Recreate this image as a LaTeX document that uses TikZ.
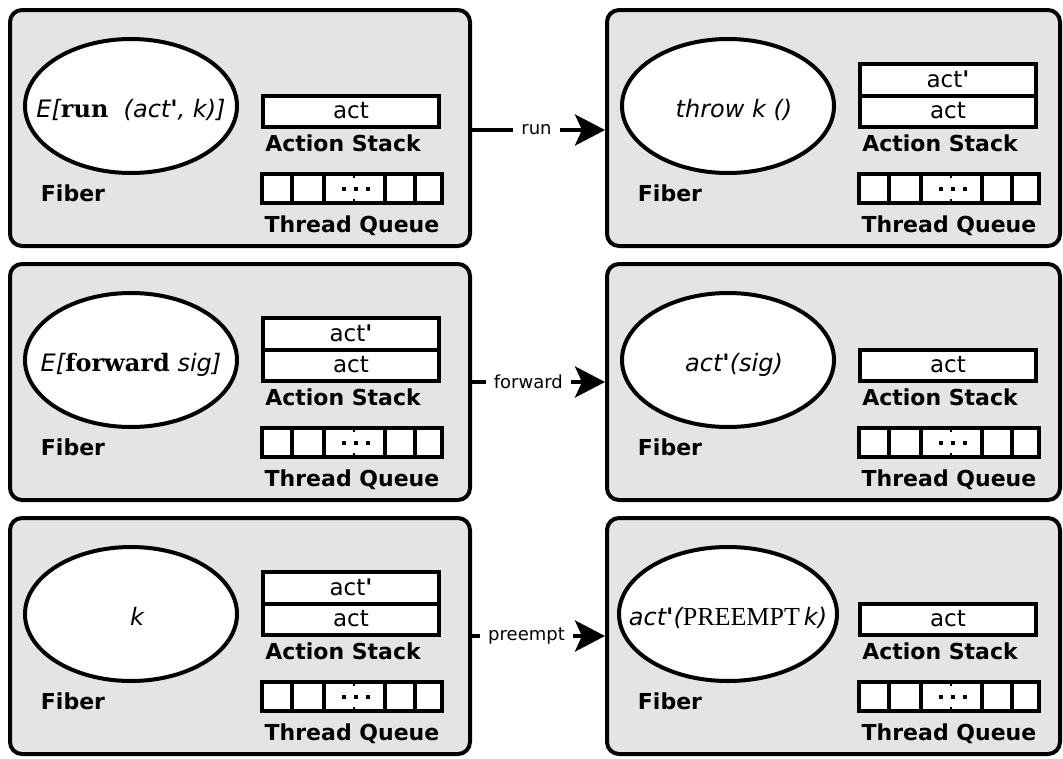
\documentclass[tikz,border=0pt]{standalone}
\usepackage{fontspec}
\usetikzlibrary{arrows.meta,shapes.geometric}
\newfontfamily\dejavu{DejaVu Sans}
\newfontfamily\kwserif{DejaVu Serif}
\newfontfamily\capserif{Liberation Serif}
\definecolor{panelgray}{RGB}{228,228,228}
\tikzset{
  panelbox/.style={draw, line width=4pt, fill=panelgray, rounded corners=12pt,
    minimum height=236pt, inner sep=0pt},
  fibershape/.style={ellipse, draw, line width=4pt, fill=white, minimum height=134pt,
    inner sep=0pt, font=\dejavu\itshape\fontsize{24}{28}\selectfont},
  cell/.style={draw, line width=4pt, fill=white, minimum width=176pt, inner sep=0pt,
    font=\dejavu\fontsize{23}{26}\selectfont},
  queuebox/.style={draw, line width=4pt, fill=white, minimum width=180pt,
    minimum height=29pt, inner sep=0pt},
  divider/.style={line width=4pt},
  qtick/.style={line width=2pt},
  caption/.style={font=\dejavu\bfseries\fontsize{22}{26}\selectfont, inner sep=0pt},
  flow/.style={line width=4pt, -{Stealth[length=30pt,width=31pt,inset=7pt]}},
  flowlabel/.style={fill=white, inner xsep=8pt, inner ysep=2pt,
    font=\dejavu\fontsize{18}{21}\selectfont},
}
% bold upright prime, bold serif keywords and serif capitals
\newcommand\qmark{{\upshape\bfseries\textquotesingle}}
\newcommand\rmbf[1]{{\kwserif\upshape\bfseries\fontsize{24}{28}\selectfont #1}}
\newcommand\rmcaps[1]{{\capserif\upshape\fontsize{26}{29}\selectfont #1}}
% nudge an expression a little to the right of the ellipse centre
\newcommand\nudge{\hspace*{12pt}}

% one fiber state: #1 name, #2/#3 top-left corner, #4 panel width,
% #5 fiber expression, #6 ellipse width, #7 = 1 for a second stack entry
\newcommand\fiberpanel[7]{%
  \begin{scope}[shift={(#2,#3)}]
    \node[panelbox, minimum width=#4pt] (#1) at ({2+#4/2},120) {};
    \node[fibershape, minimum width=#6pt] (#1-ell) at (123,98)
      {\makebox[0pt]{\raisebox{-11pt}[0pt][0pt]{#5}}};
    \node[caption] (#1-fib) at (65,185) {Fiber};
    \node[cell, minimum height=31pt] (#1-act) at (343,103) {act};
    \ifnum#7=1
      \node[cell, minimum height=32pt] (#1-top) at (343,71.5) {act\qmark};
    \fi
    \node[caption] (#1-stk) at (335,135) {Action Stack};
    \node[queuebox] (#1-q) at (344,180.5) {};
    \foreach \dx in {284,316,377,407} \draw[divider] (\dx,166) -- (\dx,195);
    \draw[qtick] (346,164) -- (346,170);
    \draw[qtick] (346,191) -- (346,197);
    \foreach \dx in {336,348,360} \fill (\dx-2,179) rectangle (\dx+2,183);
    \node[caption] (#1-tq) at (344,218) {Thread Queue};
  \end{scope}}

\begin{document}
\begin{tikzpicture}[x=1pt,y=-1pt]
  \useasboundingbox (0,0) rectangle (1063,758);

  \fiberpanel{L1}{8}{8}{460}{E[\rmbf{run}\ \ (act\qmark, k)]}{212}{0}
  \fiberpanel{R1}{605}{8}{453}{\nudge throw k ()}{212}{1}
  \fiberpanel{L2}{8}{262}{460}{E[\rmbf{forward} sig]}{212}{1}
  \fiberpanel{R2}{605}{262}{453}{\nudge act\qmark(sig)}{212}{0}
  \fiberpanel{L3}{8}{516}{460}{\nudge k}{212}{1}
  \fiberpanel{R3}{605}{516}{453}{act\qmark(\rmcaps{PREEMPT}\,k)}{218}{0}

  \draw[flow] ([yshift=-2pt]L1.east) -- node[flowlabel, pos=0.485] (t1) {run}
    ([yshift=-2pt]R1.west);
  \draw[flow] (L2.east) -- node[flowlabel, pos=0.424] (t2) {forward} (R2.west);
  \draw[flow] (L3.east) -- node[flowlabel, pos=0.41] (t3) {preempt} (R3.west);
\end{tikzpicture}
\end{document}
